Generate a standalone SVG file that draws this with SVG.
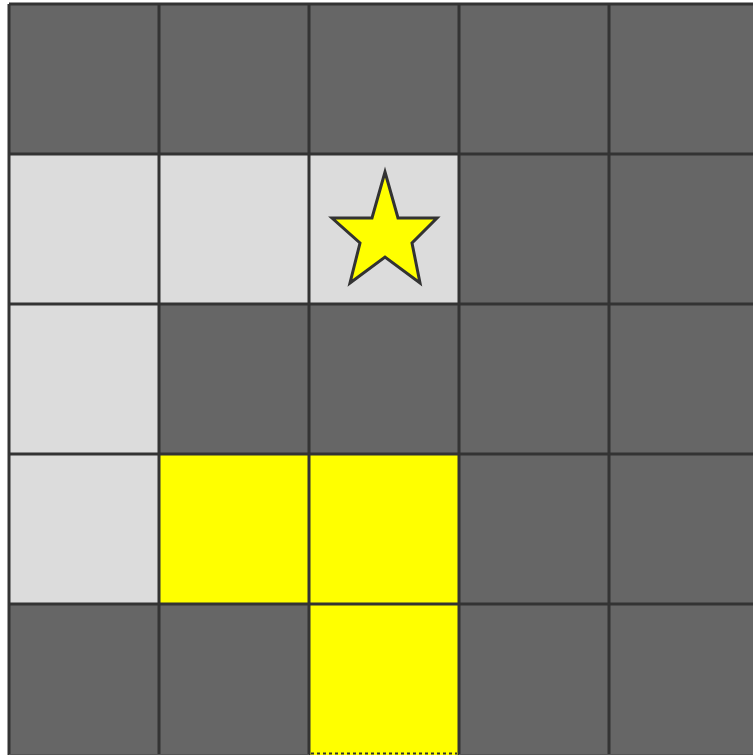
<svg xmlns="http://www.w3.org/2000/svg" width="753" height="755" viewBox="0 0 753 755">
<style>
.d{fill:#666666}.l{fill:#dcdcdc}.y{fill:#ffff00}
.g{stroke:#333333;stroke-width:3;fill:none}
</style>
<rect width="753" height="755" fill="#ffffff"/>
<g id="cells">
<rect class="d" x="9" y="4" width="150" height="150"/>
<rect class="d" x="159" y="4" width="150" height="150"/>
<rect class="d" x="309" y="4" width="150" height="150"/>
<rect class="d" x="459" y="4" width="150" height="150"/>
<rect class="d" x="609" y="4" width="150" height="150"/>
<rect class="l" x="9" y="154" width="150" height="150"/>
<rect class="l" x="159" y="154" width="150" height="150"/>
<rect class="l" x="309" y="154" width="150" height="150"/>
<rect class="d" x="459" y="154" width="150" height="150"/>
<rect class="d" x="609" y="154" width="150" height="150"/>
<rect class="l" x="9" y="304" width="150" height="150"/>
<rect class="d" x="159" y="304" width="150" height="150"/>
<rect class="d" x="309" y="304" width="150" height="150"/>
<rect class="d" x="459" y="304" width="150" height="150"/>
<rect class="d" x="609" y="304" width="150" height="150"/>
<rect class="l" x="9" y="454" width="150" height="150"/>
<rect class="y" x="159" y="454" width="150" height="150"/>
<rect class="y" x="309" y="454" width="150" height="150"/>
<rect class="d" x="459" y="454" width="150" height="150"/>
<rect class="d" x="609" y="454" width="150" height="150"/>
<rect class="d" x="9" y="604" width="150" height="151"/>
<rect class="d" x="159" y="604" width="150" height="151"/>
<rect class="y" x="309" y="604" width="150" height="151"/>
<rect class="d" x="459" y="604" width="150" height="151"/>
<rect class="d" x="609" y="604" width="150" height="151"/>
</g>
<g id="grid" class="g">
<path d="M9,4V755M159,4V755M309,4V755M459,4V755M609,4V755"/>
<path d="M9,4H753M9,154H753M9,304H753M9,454H753M9,604H753"/>
<path d="M9,754.5H309M459,754.5H753" stroke-width="1" stroke="#555555"/>
<path d="M311,753.5H457" stroke-width="2" stroke-dasharray="3,3"/>
</g>
<g id="star">
<polygon points="385,172 398,218 437,218 412,243 420,283 385,257 350,283 360,243 332,218 372,218" fill="#ffff00" stroke="#333333" stroke-width="3" stroke-linejoin="miter"/>
</g>
</svg>
